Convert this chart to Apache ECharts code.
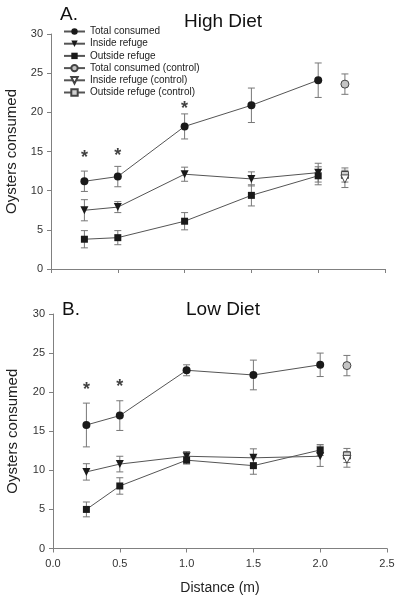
<!DOCTYPE html>
<html>
<head>
<meta charset="utf-8">
<script src="https://cdn.jsdelivr.net/npm/echarts@6/dist/echarts.min.js"></script>
<style>
  html, body { margin: 0; padding: 0; background: #fff; }
  #chart { width: 399px; height: 600px; }
</style>
</head>
<body>
<div id="chart"></div>
<script>
// distances (m)
var dist = [0.25, 0.5, 1.0, 1.5, 2.0];
var ctrlX = 2.2;
var xTicks = [0, 0.5, 1.0, 1.5, 2.0, 2.5];
var yTicks = [0, 5, 10, 15, 20, 25, 30];

// A. High Diet
var highTotal = [11.2, 11.8, 18.2, 20.9, 24.1];
var highTotalErr = [1.3, 1.3, 1.6, 2.2, 2.2];
var highInside = [7.5, 7.9, 12.1, 11.5, 12.3];
var highInsideErr = [1.35, 0.7, 0.9, 0.9, 1.2];
var highOutside = [3.8, 4.0, 6.1, 9.4, 11.9];
var highOutsideErr = [1.1, 0.9, 1.1, 1.35, 1.15];
// controls: total, inside, outside
var highCtrl = [23.6, 11.5, 12.0];
var highCtrlErr = [1.3, 1.1, 0.9];
var highStars = [[0.25, 14.7], [0.5, 14.9], [1.0, 20.9]];

// B. Low Diet
var lowTotal = [15.8, 17.0, 22.8, 22.2, 23.5];
var lowTotalErr = [2.8, 1.9, 0.7, 1.9, 1.5];
var lowInside = [9.8, 10.8, 11.8, 11.6, 11.8];
var lowInsideErr = [1.05, 1.0, 0.6, 1.15, 1.3];
var lowOutside = [5.0, 8.0, 11.3, 10.6, 12.6];
var lowOutsideErr = [0.95, 1.05, 0.5, 1.1, 0.7];
var lowCtrl = [23.4, 11.4, 11.9];
var lowCtrlErr = [1.3, 1.0, 0.9];
var lowStars = [[0.25, 20.8], [0.5, 21.2]];

var names = ['Total consumed', 'Inside refuge', 'Outside refuge',
  'Total consumed (control)', 'Inside refuge (control)', 'Outside refuge (control)'];

var lineCol = '#555';
var dotCol = '#1a1a1a';
var errCol = '#777';
var axisCol = '#808080';

function pairs(xs, ys) {
  var out = [];
  for (var i = 0; i < xs.length; i++) out.push([xs[i], ys[i]]);
  return out;
}
function errs(xs, ys, es) {
  var out = [];
  for (var i = 0; i < xs.length; i++) out.push([xs[i], ys[i] - es[i], ys[i] + es[i]]);
  return out;
}

function renderErr(params, api) {
  var x = api.value(0);
  var lo = api.coord([x, api.value(1)]);
  var hi = api.coord([x, api.value(2)]);
  var w = 3.5;
  var st = { stroke: errCol, lineWidth: 1 };
  return {
    type: 'group',
    children: [
      { type: 'line', shape: { x1: lo[0], y1: lo[1], x2: hi[0], y2: hi[1] }, style: st },
      { type: 'line', shape: { x1: lo[0] - w, y1: lo[1], x2: lo[0] + w, y2: lo[1] }, style: st },
      { type: 'line', shape: { x1: hi[0] - w, y1: hi[1], x2: hi[0] + w, y2: hi[1] }, style: st }
    ]
  };
}

function panelSeries(g, tot, totE, ins, insE, out, outE, ctrl, ctrlE, stars) {
  var s = [];
  var errData = errs(dist, tot, totE).concat(errs(dist, ins, insE), errs(dist, out, outE),
    errs([ctrlX, ctrlX, ctrlX], ctrl, ctrlE));
  s.push({
    type: 'custom', xAxisIndex: g, yAxisIndex: g, renderItem: renderErr,
    data: errData, z: 1, silent: true
  });
  var mk = [
    { name: names[0], data: pairs(dist, tot), symbol: 'circle', size: 8, rot: 0 },
    { name: names[1], data: pairs(dist, ins), symbol: 'triangle', size: 8, rot: 180 },
    { name: names[2], data: pairs(dist, out), symbol: 'rect', size: 7, rot: 0 }
  ];
  mk.forEach(function (m) {
    s.push({
      name: m.name, type: 'line', xAxisIndex: g, yAxisIndex: g, data: m.data,
      symbol: m.symbol, symbolSize: m.size, symbolRotate: m.rot, showAllSymbol: true,
      lineStyle: { color: lineCol, width: 1 },
      itemStyle: { color: dotCol }, z: 3, animation: false
    });
  });
  var ck = [
    { name: names[3], symbol: 'circle', size: 8, rot: 0, fill: '#c4c4c4' },
    { name: names[4], symbol: 'triangle', size: 8, rot: 180, fill: '#ffffff' },
    { name: names[5], symbol: 'rect', size: 7, rot: 0, fill: '#d0d0d0' }
  ];
  ck.forEach(function (m, i) {
    s.push({
      name: m.name, type: 'line', xAxisIndex: g, yAxisIndex: g, data: [[ctrlX, ctrl[i]]],
      symbol: m.symbol, symbolSize: m.size, symbolRotate: m.rot, showSymbol: true,
      lineStyle: { color: lineCol, width: 1 },
      itemStyle: { color: m.fill, borderColor: '#444', borderWidth: 1 }, z: 4 - i * 0.1, animation: false
    });
  });
  s.push({
    type: 'scatter', xAxisIndex: g, yAxisIndex: g, data: stars, symbolSize: 1,
    itemStyle: { color: 'rgba(0,0,0,0)' }, silent: true, z: 5,
    label: { show: true, formatter: '*', position: 'inside', offset: [0, 4], fontSize: 18,
      fontWeight: 'bold', color: '#111', fontFamily: 'Liberation Sans' }
  });
  return s;
}

var chart = echarts.init(document.getElementById('chart'));

function xAx(g, showLabel) {
  return {
    gridIndex: g, type: 'value', min: 0, max: 2.5, interval: 0.5,
    axisLine: { lineStyle: { color: axisCol } },
    axisTick: { length: 4, lineStyle: { color: axisCol } },
    splitLine: { show: false },
    axisLabel: { show: showLabel, fontSize: 11, color: '#333', margin: 10, fontFamily: 'Liberation Sans',
      formatter: function (v) { return v.toFixed(1); } },
    name: showLabel ? 'Distance (m)' : '', nameLocation: 'middle', nameGap: 33,
    nameTextStyle: { fontSize: 14, color: '#222', fontFamily: 'Liberation Sans' }
  };
}
function yAx(g) {
  return {
    gridIndex: g, type: 'value', min: yTicks[0], max: yTicks[yTicks.length - 1], interval: 5,
    axisLine: { show: true, lineStyle: { color: axisCol } },
    axisTick: { show: true, length: 4, lineStyle: { color: axisCol } },
    splitLine: { show: false },
    axisLabel: { fontSize: 11, color: '#333', margin: 8, fontFamily: 'Liberation Sans' },
    name: 'Oysters consumed', nameLocation: 'middle', nameGap: 32 + g,
    nameTextStyle: { fontSize: 15, color: '#222', fontFamily: 'Liberation Sans' }
  };
}

var option = {
  backgroundColor: '#fff',
  animation: false,
  textStyle: { fontFamily: 'Liberation Sans' },
  title: [
    { text: 'A.', left: 55, top: 0, textStyle: { fontSize: 19, fontWeight: 'normal', color: '#111' } },
    { text: 'High Diet', left: 179, top: 7, textStyle: { fontSize: 19, fontWeight: 'normal', color: '#111' } },
    { text: 'B.', left: 57, top: 295, textStyle: { fontSize: 19, fontWeight: 'normal', color: '#111' } },
    { text: 'Low Diet', left: 181, top: 295, textStyle: { fontSize: 19, fontWeight: 'normal', color: '#111' } }
  ],
  legend: {
    data: names, orient: 'vertical', left: 58, top: 21.5, itemWidth: 21, itemHeight: 8,
    itemGap: 2.2, textStyle: { fontSize: 10, color: '#222', lineHeight: 10 }
  },
  grid: [
    { left: 51, top: 34, width: 334, height: 235, outerBoundsMode: 'none' },
    { left: 53, top: 314, width: 334, height: 234.5, outerBoundsMode: 'none' }
  ],
  xAxis: [xAx(0, false), xAx(1, true)],
  yAxis: [yAx(0), yAx(1)],
  series: panelSeries(0, highTotal, highTotalErr, highInside, highInsideErr, highOutside, highOutsideErr,
      highCtrl, highCtrlErr, highStars)
    .concat(panelSeries(1, lowTotal, lowTotalErr, lowInside, lowInsideErr, lowOutside, lowOutsideErr,
      lowCtrl, lowCtrlErr, lowStars))
};
chart.setOption(option);
</script>
</body>
</html>
